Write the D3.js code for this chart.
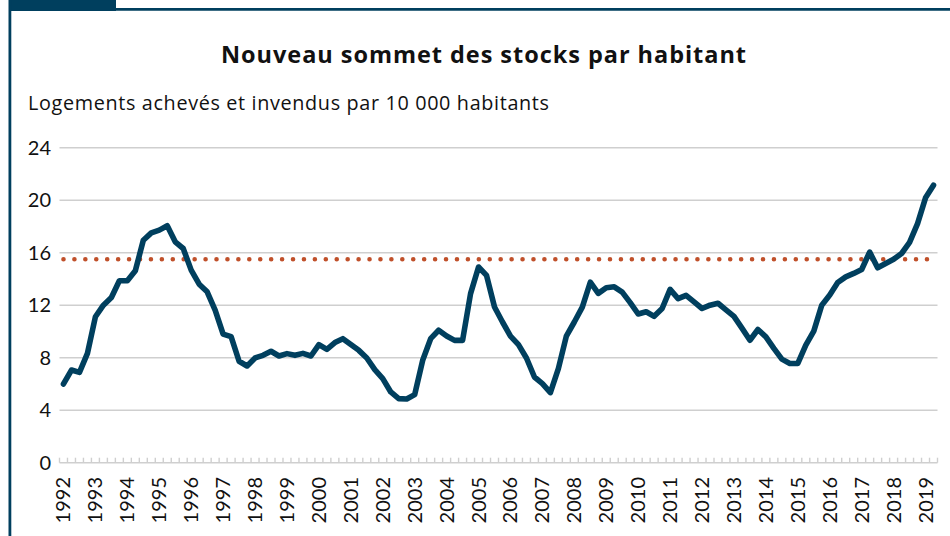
<!DOCTYPE html>
<html><head><meta charset="utf-8">
<script src="https://cdn.jsdelivr.net/npm/d3@7"></script>
<style>
html,body{margin:0;padding:0;background:#fff;}
svg{display:block;font-family:Lato,"Open Sans",sans-serif;}
</style></head>
<body>
<svg id="chart" width="950" height="536"></svg>
<script>
const title = "Nouveau sommet des stocks par habitant";
const subtitle = "Logements achevés et invendus par 10 000 habitants";
const yearLabels = ["1992","1993","1994","1995","1996","1997","1998","1999","2000","2001","2002","2003","2004","2005","2006","2007","2008","2009","2010","2011","2012","2013","2014","2015","2016","2017","2018","2019"];
const yTicks = [0,4,8,12,16,20,24];
const stockValues = [
6.0,7.06,6.88,8.33,11.12,12.0,12.59,13.86,13.86,14.62,
16.95,17.51,17.72,18.05,16.83,16.32,14.67,13.6,13.02,11.62,
9.8,9.6,7.73,7.37,7.98,8.18,8.49,8.13,8.31,8.18,
8.33,8.13,9.0,8.64,9.15,9.45,9.0,8.56,7.98,7.09,
6.41,5.39,4.88,4.85,5.19,7.8,9.45,10.09,9.65,9.32,
9.32,12.88,14.91,14.27,11.86,10.72,9.65,9.0,7.98,6.53,
6.03,5.34,7.17,9.65,10.72,11.85,13.75,12.9,13.33,13.4,
13.0,12.2,11.33,11.5,11.15,11.75,13.2,12.5,12.75,12.25,
11.75,12.0,12.15,11.65,11.15,10.25,9.33,10.15,9.59,8.71,
7.89,7.56,7.56,8.96,10.03,12.0,12.77,13.73,14.16,14.42,
14.72,16.05,14.85,15.18,15.5,15.94,16.78,18.22,20.18,21.14];
const averageValue = 15.5;

// quarterly categories 1992T1 ... 2019T2
const quarters = [];
for (const y of yearLabels) for (const q of [1,2,3,4]) quarters.push(y + "T" + q);
const categories = quarters.slice(0, stockValues.length);

const svg = d3.select("#chart");
const navy = "#003f5e";

// frame
svg.append("rect").attr("x",9).attr("y",0).attr("width",107).attr("height",11).attr("fill",navy);
svg.append("line").attr("x1",115).attr("x2",950).attr("y1",9.4).attr("y2",9.4).attr("stroke",navy).attr("stroke-width",2.6);
svg.append("line").attr("x1",9.9).attr("x2",9.9).attr("y1",0).attr("y2",536).attr("stroke",navy).attr("stroke-width",2.8);

// titles
svg.append("text").attr("x",221).attr("y",63)
  .attr("font-family","'Open Sans',Lato,sans-serif")
  .attr("font-size",23.5).attr("font-weight","bold").attr("fill","#111")
  .attr("textLength",525).attr("lengthAdjust","spacing").text(title);
svg.append("text").attr("x",28).attr("y",110)
  .attr("font-family","'Open Sans',Lato,sans-serif")
  .attr("font-size",19.8).attr("fill","#111")
  .attr("textLength",521).attr("lengthAdjust","spacing").text(subtitle);

const left = 59.5, right = 937.5;
const x = d3.scaleBand().domain(categories).range([left, right]).padding(0);
const xc = d => x(d) + x.bandwidth()/2;
const y = d3.scaleLinear().domain([0,24]).range([462.7,147.7]);

// gridlines
svg.append("g").selectAll("line").data(yTicks).join("line")
  .attr("x1",left).attr("x2",right).attr("y1",d=>y(d)).attr("y2",d=>y(d))
  .attr("stroke","#cfcfcf").attr("stroke-width",1.6);

// y axis labels
const yAxis = d3.axisLeft(y).tickValues(yTicks).tickSize(0).tickPadding(0);
const gy = svg.append("g").attr("transform","translate(51,0)").call(yAxis);
gy.select(".domain").remove();
gy.selectAll("text").attr("font-size",20).attr("fill","#111").attr("font-family","Lato,sans-serif");

// x axis minor ticks (quarters)
const tickPos = categories.map(c => x(c)).concat([right]);
svg.append("g").selectAll("line").data(tickPos).join("line")
  .attr("x1",d=>d).attr("x2",d=>d).attr("y1",y(0)-5).attr("y2",y(0))
  .attr("stroke","#cfcfcf").attr("stroke-width",1.4);

// year labels
svg.append("g").selectAll("text").data(yearLabels).join("text")
  .attr("transform", d => `translate(${xc(d+"T1")},477) rotate(-90)`)
  .attr("text-anchor","end").attr("dy","0.35em")
  .attr("font-size",20).attr("fill","#111").text(d=>d);

// average dotted line
svg.append("line")
  .attr("x1", xc(categories[0])).attr("x2", xc(categories[categories.length-1]))
  .attr("y1", y(averageValue)).attr("y2", y(averageValue))
  .attr("stroke","#c0502a").attr("stroke-width",4.6).attr("stroke-linecap","round")
  .attr("stroke-dasharray","0 10.93");

// main line
const line = d3.line().x((d,i)=>xc(categories[i])).y(d=>y(d));
svg.append("path").datum(stockValues).attr("d",line)
  .attr("fill","none").attr("stroke",navy).attr("stroke-width",5.6)
  .attr("stroke-linejoin","round").attr("stroke-linecap","round");
</script>
</body></html>
